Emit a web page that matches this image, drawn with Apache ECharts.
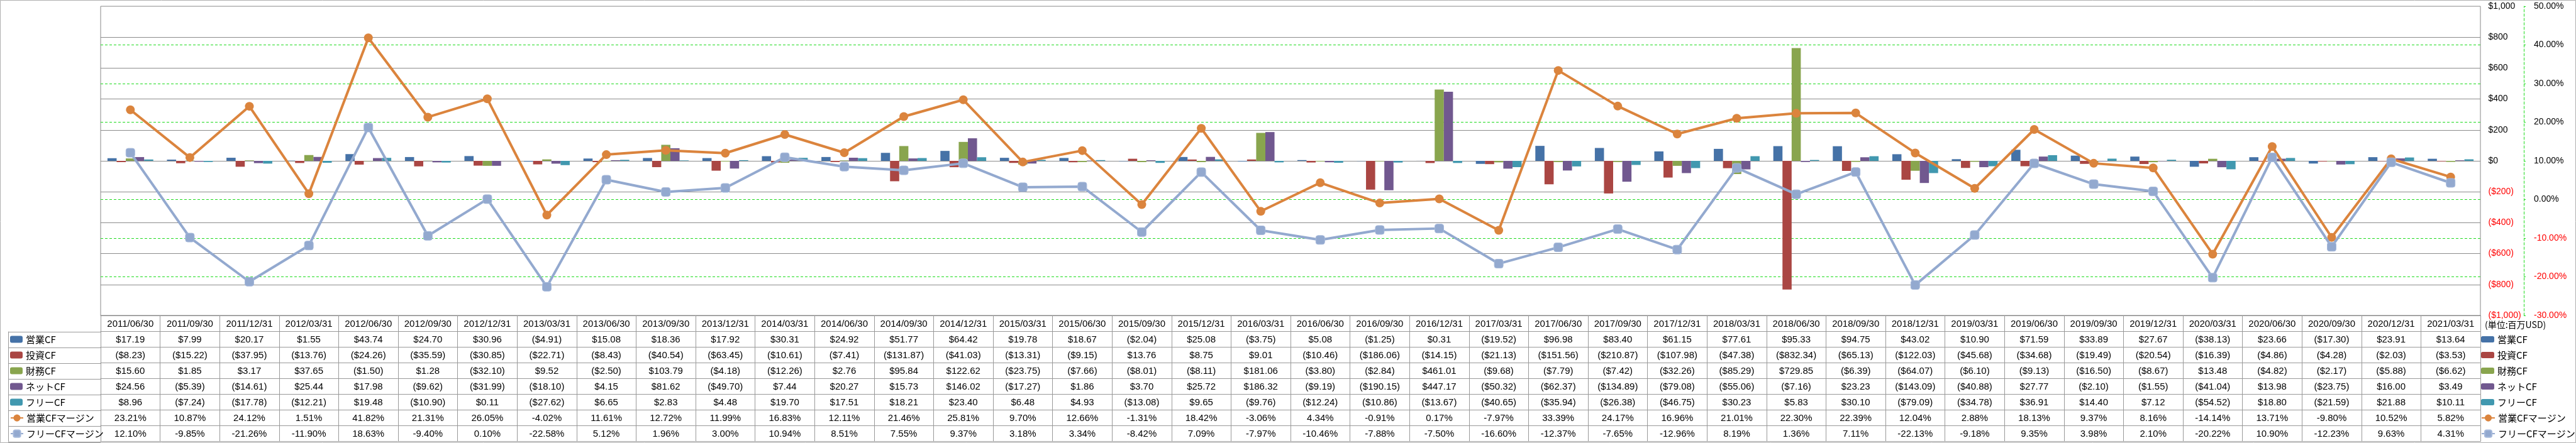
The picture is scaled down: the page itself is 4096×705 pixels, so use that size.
<!DOCTYPE html>
<html><head><meta charset="utf-8">
<script src="https://cdn.jsdelivr.net/npm/echarts@6/dist/echarts.min.js"></script>
<style>html,body{margin:0;padding:0;background:#fff}#c{width:4096px;height:705px}</style>
</head><body><div id="c"></div>
<script>
const categories = ['2011/06/30','2011/09/30','2011/12/31','2012/03/31','2012/06/30','2012/09/30','2012/12/31','2013/03/31','2013/06/30','2013/09/30','2013/12/31','2014/03/31','2014/06/30','2014/09/30','2014/12/31','2015/03/31','2015/06/30','2015/09/30','2015/12/31','2016/03/31','2016/06/30','2016/09/30','2016/12/31','2017/03/31','2017/06/30','2017/09/30','2017/12/31','2018/03/31','2018/06/30','2018/09/30','2018/12/31','2019/03/31','2019/06/30','2019/09/30','2019/12/31','2020/03/31','2020/06/30','2020/09/30','2020/12/31','2021/03/31'];
const opCF = [17.19,7.99,20.17,1.55,43.74,24.70,30.96,-4.91,15.08,18.36,17.92,30.31,24.92,51.77,64.42,19.78,18.67,-2.04,25.08,-3.75,5.08,-1.25,0.31,-19.52,96.98,83.40,61.15,77.61,95.33,94.75,43.02,10.90,71.59,33.89,27.67,-38.13,23.66,-17.30,23.91,13.64];
const invCF = [-8.23,-15.22,-37.95,-13.76,-24.26,-35.59,-30.85,-22.71,-8.43,-40.54,-63.45,-10.61,-7.41,-131.87,-41.03,-13.31,-9.15,13.76,8.75,9.01,-10.46,-186.06,-14.15,-21.13,-151.56,-210.87,-107.98,-47.38,-832.34,-65.13,-122.03,-45.68,-34.68,-19.49,-20.54,-16.39,-4.86,-4.28,-2.03,-3.53];
const finCF = [15.60,1.85,3.17,37.65,-1.50,1.28,-32.10,9.52,-2.50,103.79,-4.18,-12.26,2.76,95.84,122.62,-23.75,-7.66,-8.01,-8.11,181.06,-3.80,-2.84,461.01,-9.68,-7.79,-7.42,-32.26,-85.29,729.85,-6.39,-64.07,-6.10,-9.13,-16.50,-8.67,13.48,-4.82,-2.17,-5.88,-6.62];
const netCF = [24.56,-5.39,-14.61,25.44,17.98,-9.62,-31.99,-18.10,4.15,81.62,-49.70,7.44,20.27,15.73,146.02,-17.27,1.86,3.70,25.72,186.32,-9.19,-190.15,447.17,-50.32,-62.37,-134.89,-79.08,-55.06,-7.16,23.23,-143.09,-40.88,27.77,-2.10,-1.55,-41.04,13.98,-23.75,16.00,3.49];
const freeCF = [8.96,-7.24,-17.78,-12.21,19.48,-10.90,0.11,-27.62,6.65,2.83,4.48,19.70,17.51,18.21,23.40,6.48,4.93,-13.08,9.65,-9.76,-12.24,-10.86,-13.67,-40.65,-35.94,-26.38,-46.75,30.23,5.83,30.10,-79.09,-34.78,36.91,14.40,7.12,-54.52,18.80,-21.59,21.88,10.11];
const opMargin = [23.21,10.87,24.12,1.51,41.82,21.31,26.05,-4.02,11.61,12.72,11.99,16.83,12.11,21.46,25.81,9.70,12.66,-1.31,18.42,-3.06,4.34,-0.91,0.17,-7.97,33.39,24.17,16.96,21.01,22.30,22.39,12.04,2.88,18.13,9.37,8.16,-14.14,13.71,-9.80,10.52,5.82];
const freeMargin = [12.10,-9.85,-21.26,-11.90,18.63,-9.40,0.10,-22.58,5.12,1.96,3.00,10.94,8.51,7.55,9.37,3.18,3.34,-8.42,7.09,-7.97,-10.46,-7.88,-7.50,-16.60,-12.37,-7.65,-12.96,8.19,1.36,7.11,-22.13,-9.18,9.35,3.98,2.10,-20.22,10.90,-12.23,9.63,4.31];
const seriesNames = ['営業CF','投資CF','財務CF','ネットCF','フリーCF','営業CFマージン','フリーCFマージン'];
const seriesColors = ['#4572A7','#AA4643','#89A54E','#71588F','#4198AF','#DB843D','#93A9CF'];
const unitLabel = '(単位:百万USD)';

const LAT = '"Liberation Sans", Arial, sans-serif';
const CJK = '"Noto Sans CJK JP", sans-serif';
const W = 4096, H = 705;
const gridLeft = 160, gridRight = 152, gridTop = 10, plotBottom = 502;
const headerH = 25.6, rowH = 25;
const tableTop = plotBottom + headerH;
const lineCol = '#999';
const green = '#1fdc1f';

const money = v => v < 0 ? '($' + (-v).toFixed(2) + ')' : '$' + v.toFixed(2);
const pct = v => v.toFixed(2) + '%';
const rowsData = [opCF, invCF, finCF, netCF, freeCF, opMargin, freeMargin];
const rowsText = rowsData.map((arr, k) => arr.map(k < 5 ? money : pct));

const xAxes = [];
xAxes.push({
  type: 'category', data: categories, gridIndex: 0, position: 'bottom', offset: 0,
  axisLine: { onZero: false, lineStyle: { color: '#888' } },
  axisTick: { show: true, interval: 0, length: headerH, lineStyle: { color: lineCol } },
  axisLabel: { interval: 0, margin: headerH / 2 + 1, verticalAlign: 'middle', fontFamily: LAT, fontSize: 15, color: '#000' }
});
rowsText.forEach((txt, k) => {
  xAxes.push({
    type: 'category', data: categories, gridIndex: 0, position: 'bottom', offset: headerH + k * rowH,
    axisLine: { onZero: false, lineStyle: { color: lineCol } },
    axisTick: { show: true, interval: 0, length: rowH, lineStyle: { color: lineCol } },
    axisLabel: { interval: 0, margin: rowH / 2 + 1, verticalAlign: 'middle', fontFamily: LAT, fontSize: 15, color: '#000',
      formatter: (v, i) => txt[i] }
  });
});
xAxes.push({
  type: 'category', data: categories, gridIndex: 0, position: 'bottom', offset: headerH + 7 * rowH,
  axisLine: { onZero: false, lineStyle: { color: lineCol } }, axisTick: { show: false }, axisLabel: { show: false }
});

const fmtMoney = v => {
  const s = '$' + Math.abs(v).toLocaleString('en-US');
  return v < 0 ? '{n|(' + s + ')}' : s;
};
const fmtPct = v => v < 0 ? '{n|' + v.toFixed(2) + '%}' : v.toFixed(2) + '%';

const bars = [opCF, invCF, finCF, netCF, freeCF].map((d, i) => ({
  name: seriesNames[i], type: 'bar', xAxisIndex: 0, yAxisIndex: 1, data: d,
  barGap: '0%', barCategoryGap: '23%', itemStyle: { color: seriesColors[i] }
}));
const lines = [
  { name: seriesNames[5], type: 'line', xAxisIndex: 0, yAxisIndex: 0, data: opMargin, z: 5,
    symbol: 'circle', symbolSize: 14, showAllSymbol: true,
    lineStyle: { width: 4, color: seriesColors[5] }, itemStyle: { color: seriesColors[5] } },
  { name: seriesNames[6], type: 'line', xAxisIndex: 0, yAxisIndex: 0, data: freeMargin, z: 6,
    symbol: 'roundRect', symbolSize: 14, showAllSymbol: true,
    lineStyle: { width: 4, color: seriesColors[6] }, itemStyle: { color: seriesColors[6], borderColor: '#a7badb', borderWidth: 1 } }
];

function legend(names, left, top, iw, ih) {
  return { data: names, orient: 'vertical', left: left, top: top, padding: 0, itemGap: rowH - 15,
    itemWidth: iw, itemHeight: ih, selectedMode: false,
    textStyle: { fontFamily: CJK, fontSize: 15, lineHeight: 15, color: '#000' } };
}

const graphics = [];
graphics.push({ type: 'rect', silent: true, shape: { x: 0.5, y: 0.5, width: W - 1, height: H - 1 }, style: { fill: 'none', stroke: '#b0b0b0', lineWidth: 1 } });
for (let k = 0; k <= 7; k++) {
  const y = Math.round(tableTop + k * rowH) + 0.5;
  graphics.push({ type: 'line', silent: true, shape: { x1: 13, y1: y, x2: gridLeft, y2: y }, style: { stroke: lineCol, lineWidth: 1 } });
}
graphics.push({ type: 'line', silent: true, shape: { x1: 13.5, y1: tableTop, x2: 13.5, y2: tableTop + 7 * rowH }, style: { stroke: lineCol, lineWidth: 1 } });
graphics.push({ type: 'text', left: 3951, top: 510, style: { text: unitLabel, font: '14px ' + CJK, fill: '#000' } });

const chart = echarts.init(document.getElementById('c'), null, { renderer: 'canvas' });
chart.setOption({
  backgroundColor: '#fff',
  animation: false,
  grid: { left: gridLeft, right: gridRight, top: gridTop, bottom: H - plotBottom, show: true, borderColor: '#888', borderWidth: 1, containLabel: false },
  xAxis: xAxes,
  yAxis: [
    { type: 'value', position: 'right', offset: 69, min: -30, max: 50, interval: 10,
      axisLine: { show: true, lineStyle: { color: green, type: [4, 3] } },
      axisTick: { show: true, length: 5, lineStyle: { color: green, type: [3, 2] } },
      splitLine: { show: true, showMinLine: false, showMaxLine: false, lineStyle: { color: green, type: [4, 3] } },
      axisLabel: { margin: 16, align: 'left', formatter: fmtPct, fontFamily: LAT, fontSize: 14, color: '#000',
        rich: { n: { color: '#ff0000', fontFamily: LAT, fontSize: 14 } } } },
    { type: 'value', position: 'right', min: -1000, max: 1000, interval: 200,
      axisLine: { show: false }, axisTick: { show: false },
      splitLine: { show: true, showMinLine: false, showMaxLine: false, lineStyle: { color: '#8c8c8c', width: 1 } },
      axisLabel: { margin: 12.5, align: 'left', formatter: fmtMoney, fontFamily: LAT, fontSize: 14, color: '#000',
        rich: { n: { color: '#ff0000', fontFamily: LAT, fontSize: 14 } } } }
  ],
  legend: [
    legend(seriesNames.slice(0, 5), 16, tableTop + 5, 20, 11),
    legend(seriesNames.slice(5), 16, tableTop + 5 * rowH + 5, 20, 14),
    legend(seriesNames.slice(0, 5), 3945, tableTop + 5, 21, 10),
    legend(seriesNames.slice(5), 3945, tableTop + 5 * rowH + 5, 21, 14)
  ],
  series: bars.concat(lines),
  graphic: graphics
});
</script></body></html>
